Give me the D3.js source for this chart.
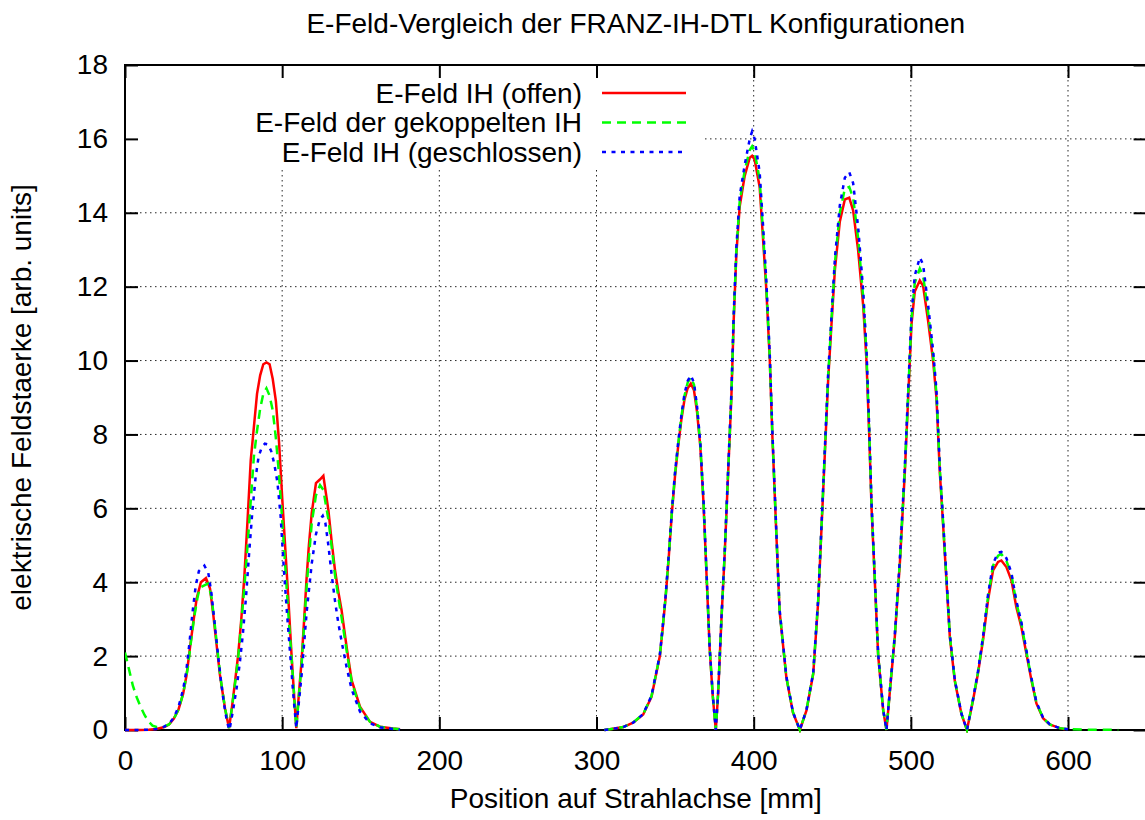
<!DOCTYPE html>
<html><head><meta charset="utf-8">
<script src="https://cdn.jsdelivr.net/npm/d3@7"></script>
<style>
body{margin:0;background:#fff}
svg{display:block}
text{font-family:"Liberation Sans",Arial,Helvetica,sans-serif;fill:#000}
</style>
</head><body>
<svg id="chart" width="1145" height="820"></svg>
<script>
const titleText = "E-Feld-Vergleich der FRANZ-IH-DTL Konfigurationen";
const xLabelText = "Position auf Strahlachse [mm]";
const yLabelText = "elektrische Feldstaerke [arb. units]";
const seriesNames = ["E-Feld IH (offen)", "E-Feld der gekoppelten IH", "E-Feld IH (geschlossen)"];
const seriesColors = ["#ff0000", "#00ff00", "#0000ff"];
const xTicks = [0, 100, 200, 300, 400, 500, 600];
const yTicks = [0, 2, 4, 6, 8, 10, 12, 14, 16, 18];

// E-Feld IH (offen) : [position mm, field]
const offen = [
 [0,0],[5,0],[10,0],[15,0.01],[20,0.03],[25,0.08],[28,0.15],[31,0.3],[34,0.55],[37,0.98],
 [39.2,1.49],[41.3,2.21],[43.5,2.93],[45.6,3.56],[48.3,4.0],[51.5,4.11],[54.1,3.83],[56.2,3.11],
 [58.3,2.3],[60.4,1.49],[63.6,0.59],[66.2,0.05],[68,0.6],[70,1.3],[72,2.03],[74,3.0],[76,4.2],
 [78,5.7],[80,7.3],[82,8.2],[84,9.1],[86,9.6],[88,9.9],[90,9.95],[92,9.9],[94,9.5],[96,8.9],
 [98,7.8],[100,6.3],[102,4.9],[104,3.5],[106,2.0],[107.5,1.0],[109,0.05],[110.5,0.9],[112.4,1.9],
 [114,3.0],[115.6,4.15],[117,5.0],[118.8,5.87],[121.5,6.68],[124,6.78],[126.2,6.88],[129.4,5.95],
 [131.5,5.1],[133.6,4.33],[135.7,3.75],[137.8,3.24],[141,2.25],[144.2,1.35],[149.5,0.63],
 [155.9,0.22],[162.2,0.09],[170.5,0.04],[175,0.02],
 null,
 [305,0],[308.5,0.02],[317,0.08],[323.3,0.2],[329.7,0.42],[335,0.9],[340.3,2.0],[342,2.7],
 [344,3.6],[346,4.7],[348,5.9],[350,6.9],[352,7.7],[354,8.4],[356,8.95],[358,9.25],[360,9.38],
 [362,9.2],[364,8.6],[366,7.7],[368,6.2],[370,4.2],[372,2.2],[374,0.9],[375.9,0],[377.4,1.0],
 [379.5,3.0],[381.6,4.79],[383.7,6.9],[385.8,9.0],[387.3,11.1],[389,12.9],[391.1,14.17],
 [394.3,15.0],[397.5,15.49],[399,15.54],[400.6,15.44],[403.8,14.7],[405.9,13.33],[408,11.96],
 [410.2,10.06],[411.9,7.96],[414.4,5.32],[416.5,3.21],[420.8,1.42],[425,0.47],[429.4,0],
 [433.6,0.53],[437.9,1.52],[441.1,3.51],[443.2,5.5],[445.3,7.49],[447.4,9.48],[449.5,10.98],
 [451.7,12.47],[454.8,13.76],[458,14.36],[460.8,14.41],[463.3,14.06],[466.5,12.97],[469.7,11.47],
 [471.8,9.98],[473.5,7.99],[475,6.0],[477.1,4.01],[479.2,2.02],[482.4,0.53],[484.5,0],
 [486.6,1.02],[489.8,2.52],[493,4.51],[496.2,7.0],[498.3,8.99],[500.4,10.98],[502.5,11.87],
 [505.7,12.17],[507.8,12.02],[511,11.07],[514.2,9.98],[516.3,8.99],[518.4,7.0],[520.6,5.5],
 [522.7,4.01],[524.8,2.52],[528,1.32],[532.2,0.43],[535.7,0],[539.6,0.81],[542.7,1.53],
 [545.9,2.43],[549.1,3.51],[552.3,4.32],[555.5,4.55],[557.6,4.59],[560.8,4.41],[564,4.05],
 [567.1,3.33],[570.3,2.79],[573.5,2.07],[576.7,1.35],[579.9,0.72],[584.1,0.32],[588.3,0.15],
 [594.7,0.05],[598,0.02]
];

// E-Feld der gekoppelten IH
const gekoppelt = [
 [0,2.1],[2.5,1.65],[5,1.2],[7.5,0.88],[10,0.62],[12.5,0.4],[15,0.23],[17.5,0.12],[20,0.08],
 [22.5,0.07],[25,0.09],[28,0.15],[31,0.3],[34,0.55],[37,0.98],[40,1.7],[42,2.4],[44,3.05],
 [46,3.55],[47.5,3.85],[53,3.97],[55,3.6],[57,2.9],[59,2.1],[61,1.35],[63.6,0.6],[66.2,0.05],
 [68,0.6],[70,1.25],[72,1.95],[74,2.9],[76,3.9],[78,5.0],[80,6.2],[82,7.4],[84,8.1],[86,8.7],
 [88,9.1],[90,9.25],[92,9.05],[94,8.65],[96,7.9],[98,6.9],[100,5.7],[102,4.4],[104,3.1],
 [106,1.95],[107.5,1.0],[109,0.05],[110.5,0.85],[112.4,1.8],[115.6,3.9],[118.8,5.6],[121.5,6.35],
 [124.1,6.63],[126.2,6.5],[129.4,5.7],[131.5,4.95],[133.6,4.2],[135.7,3.6],[137.8,3.05],[141,2.15],
 [144.2,1.3],[149.5,0.6],[155.9,0.22],[162.2,0.09],[170.5,0.04],[175,0.02],
 null,
 [305,0],[308.5,0.02],[317,0.08],[323.3,0.2],[329.7,0.43],[335,0.92],[340.3,2.02],[342,2.72],
 [344,3.62],[346,4.72],[348,5.93],[350,6.95],[352,7.75],[354,8.48],[356,9.05],[358,9.4],[360,9.55],
 [362,9.35],[364,8.7],[366,7.75],[368,6.25],[370,4.25],[372,2.22],[374,0.92],[375.9,0],[377.4,1.02],
 [379.5,3.02],[381.6,4.82],[383.7,6.95],[385.8,9.05],[387.3,11.15],[389,12.98],[391.1,14.3],
 [394.3,15.15],[397.5,15.7],[399,15.8],[400.6,15.65],[403.8,14.9],[405.9,13.5],[408,12.05],
 [410.2,10.12],[411.9,8.0],[414.4,5.35],[416.5,3.23],[420.8,1.43],[425,0.48],[429.4,0],
 [433.6,0.54],[437.9,1.54],[441.1,3.55],[443.2,5.55],[445.3,7.56],[447.4,9.57],[449.5,11.1],
 [451.7,12.65],[454.8,14.0],[458,14.65],[460.8,14.7],[463.3,14.4],[466.5,13.3],[469.7,11.7],
 [471.8,10.15],[473.5,8.1],[475,6.08],[477.1,4.06],[479.2,2.05],[482.4,0.54],[484.5,0],
 [486.6,1.04],[489.8,2.55],[493,4.56],[496.2,7.08],[498.3,9.1],[500.4,11.12],[502.5,12.1],
 [505.7,12.49],[507.8,12.3],[511,11.3],[514.2,10.12],[516.3,9.1],[518.4,7.08],[520.6,5.56],
 [522.7,4.06],[524.8,2.55],[528,1.34],[532.2,0.44],[535.7,0],[539.6,0.83],[542.7,1.56],
 [545.9,2.48],[549.1,3.6],[552.3,4.45],[555.5,4.72],[557.6,4.76],[560.8,4.58],[564,4.2],
 [567.1,3.45],[570.3,2.88],[573.5,2.13],[576.7,1.39],[579.9,0.74],[584.1,0.33],[588.3,0.15],
 [594.7,0.05],[600,0.02],[610,0.01],[620,0.01],[632,0]
];

// E-Feld IH (geschlossen)
const geschlossen = [
 [0,0],[5,0],[10,0],[15,0.01],[20,0.03],[25,0.09],[28,0.17],[31,0.33],[34,0.62],[37,1.1],
 [39,1.6],[41,2.35],[43,3.2],[45,3.9],[47,4.3],[50.5,4.45],[53,4.25],[55,3.7],[57,2.9],[59,2.1],
 [61,1.35],[63,0.7],[65,0.2],[66.5,0],[69,0.6],[71,1.13],[73,1.8],[75,2.6],[77,3.6],[79,4.8],
 [81,5.9],[83,6.8],[85,7.4],[87,7.65],[89,7.75],[91,7.73],[93,7.55],[95,7.2],[97,6.7],[99,5.8],
 [101,4.4],[103,3.2],[105,2.1],[107,1.0],[109,0.05],[110.5,0.7],[112.4,1.5],[115.6,3.2],
 [118.8,4.5],[121.5,5.3],[124,5.7],[125.8,5.8],[127.5,5.6],[129.4,5.0],[131.5,4.2],[133.6,3.5],
 [135.7,2.9],[137.8,2.4],[141,1.7],[144.2,1.1],[149.5,0.5],[155.9,0.18],[162.2,0.07],[170.5,0.03],
 [175,0.01],
 null,
 [305,0],[308.5,0.02],[317,0.08],[323.3,0.2],[329.7,0.43],[335,0.93],[340.3,2.04],[342,2.75],
 [344,3.65],[346,4.76],[348,5.97],[350,7.0],[352,7.8],[354,8.52],[356,9.1],[358,9.45],[360,9.6],
 [362,9.4],[364,8.75],[366,7.8],[368,6.3],[370,4.28],[372,2.24],[374,0.93],[375.9,0],[377.4,1.03],
 [379.5,3.05],[381.6,4.86],[383.7,7.0],[385.8,9.12],[387.3,11.25],[389,13.08],[391.1,14.45],
 [394.3,15.3],[397.5,16.0],[399,16.2],[400.6,16.0],[403.8,15.1],[405.9,13.7],[408,12.2],
 [410.2,10.22],[411.9,8.08],[414.4,5.4],[416.5,3.26],[420.8,1.45],[425,0.48],[429.4,0],
 [433.6,0.55],[437.9,1.56],[441.1,3.58],[443.2,5.6],[445.3,7.63],[447.4,9.66],[449.5,11.2],
 [451.7,12.78],[454.8,14.2],[458,14.95],[460.8,15.1],[463.3,14.8],[466.5,13.6],[469.7,11.88],
 [471.8,10.28],[473.5,8.2],[475,6.14],[477.1,4.1],[479.2,2.07],[482.4,0.55],[484.5,0],
 [486.6,1.05],[489.8,2.58],[493,4.62],[496.2,7.16],[498.3,9.2],[500.4,11.25],[502.5,12.3],
 [505.7,12.79],[507.8,12.6],[511,11.5],[514.2,10.25],[516.3,9.2],[518.4,7.16],[520.6,5.62],
 [522.7,4.1],[524.8,2.58],[528,1.35],[532.2,0.44],[535.7,0],[539.6,0.84],[542.7,1.58],
 [545.9,2.52],[549.1,3.66],[552.3,4.5],[555.5,4.8],[557.6,4.82],[560.8,4.65],[564,4.25],
 [567.1,3.5],[570.3,2.92],[573.5,2.16],[576.7,1.41],[579.9,0.75],[584.1,0.34],[588.3,0.16],
 [594.7,0.05],[600,0.02]
];

const series = [offen, gekoppelt, geschlossen];

const svg = d3.select("#chart");
const plot = {left: 125, top: 65, right: 1146.6, bottom: 730};
const x = d3.scaleLinear().domain([0, 650]).range([plot.left, plot.right]);
const y = d3.scaleLinear().domain([0, 18]).range([plot.bottom, plot.top]);
const FS = 28;

// grid
const grid = svg.append("g").attr("stroke", "#000").attr("stroke-width", 1)
  .attr("stroke-dasharray", "1.5,3.5").attr("opacity", 0.85);
grid.selectAll("line.v").data(xTicks.filter(t => t > 0)).join("line")
  .attr("x1", d => x(d)).attr("x2", d => x(d)).attr("y1", plot.top).attr("y2", plot.bottom);
grid.selectAll("line.h").data(yTicks.filter(t => t > 0 && t < 18)).join("line")
  .attr("x1", plot.left).attr("x2", plot.right).attr("y1", d => y(d)).attr("y2", d => y(d));

// opaque key background
svg.append("rect").attr("x", plot.left + 1).attr("y", plot.top + 1)
  .attr("width", 703 - plot.left).attr("height", 167 - plot.top).attr("fill", "#fff");

// axes (ticks inside, mirrored)
function styleAxis(g) {
  g.select(".domain").remove();
  g.selectAll(".tick line").attr("stroke", "#000").attr("stroke-width", 2);
  g.selectAll(".tick text").attr("font-size", FS).attr("fill", "#000")
    .attr("font-family", '"Liberation Sans", Arial, Helvetica, sans-serif');
}
svg.append("g").attr("transform", `translate(0,${plot.bottom})`)
  .call(d3.axisBottom(x).tickValues(xTicks).tickSizeInner(-13).tickSizeOuter(0).tickPadding(20).tickFormat(d3.format("d")))
  .call(styleAxis);
svg.append("g").attr("transform", `translate(0,${plot.top})`)
  .call(d3.axisTop(x).tickValues(xTicks).tickSizeInner(-13).tickSizeOuter(0).tickFormat(""))
  .call(styleAxis);
svg.append("g").attr("transform", `translate(${plot.left},0)`)
  .call(d3.axisLeft(y).tickValues(yTicks).tickSizeInner(-13).tickSizeOuter(0).tickPadding(17).tickFormat(d3.format("d")))
  .call(styleAxis);
svg.append("g").attr("transform", `translate(${plot.right},0)`)
  .call(d3.axisRight(y).tickValues(yTicks).tickSizeInner(-13).tickSizeOuter(0).tickFormat(""))
  .call(styleAxis);

// border
svg.append("rect").attr("x", plot.left).attr("y", plot.top)
  .attr("width", plot.right - plot.left).attr("height", plot.bottom - plot.top)
  .attr("fill", "none").attr("stroke", "#000").attr("stroke-width", 2);

// curves
svg.append("clipPath").attr("id", "clip").append("rect")
  .attr("x", plot.left).attr("y", plot.top).attr("width", plot.right - plot.left).attr("height", plot.bottom - plot.top + 3);
const line = d3.line().defined(d => d != null).x(d => x(d[0])).y(d => y(d[1]));
const dashes = [null, "9,6", "4,5.5"];
const curves = svg.append("g").attr("clip-path", "url(#clip)");
series.forEach((s, i) => {
  curves.append("path").datum(s).attr("d", line).attr("fill", "none")
    .attr("stroke", seriesColors[i]).attr("stroke-width", 2.5)
    .attr("stroke-dasharray", dashes[i]);
});

// legend
const keyTextX = 582, keyLineX1 = 602, keyLineX2 = 686;
const keyRows = [93, 122.5, 152];
seriesNames.forEach((name, i) => {
  svg.append("text").attr("x", keyTextX).attr("y", keyRows[i]).attr("dy", "0.35em")
    .attr("text-anchor", "end").attr("font-size", FS).text(name);
  svg.append("line").attr("x1", keyLineX1).attr("x2", keyLineX2)
    .attr("y1", keyRows[i]).attr("y2", keyRows[i])
    .attr("stroke", seriesColors[i]).attr("stroke-width", 2.5).attr("stroke-dasharray", dashes[i]);
});

// titles
svg.append("text").attr("x", (plot.left + plot.right) / 2).attr("y", 33)
  .attr("text-anchor", "middle").attr("font-size", FS).text(titleText);
svg.append("text").attr("x", (plot.left + plot.right) / 2).attr("y", 808)
  .attr("text-anchor", "middle").attr("font-size", FS).text(xLabelText);
svg.append("text").attr("transform", `translate(31,${(plot.top + plot.bottom) / 2}) rotate(-90)`)
  .attr("text-anchor", "middle").attr("font-size", FS).text(yLabelText);
</script>
</body></html>
